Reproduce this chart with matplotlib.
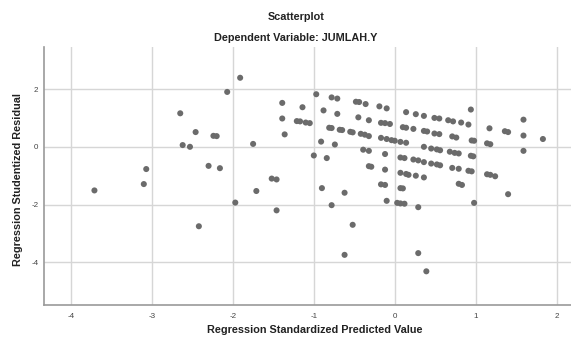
import matplotlib
matplotlib.use("Agg")
import matplotlib.pyplot as plt
import numpy as np

plt.rcParams["font.family"] = ["Liberation Sans", "DejaVu Sans"]

title = "Scatterplot"
subtitle = "Dependent Variable: JUMLAH.Y"
x_label = "Regression Standardized Predicted Value"
y_label = "Regression Studentized Residual"

x_ticks = [-4, -3, -2, -1, 0, 1, 2]
y_ticks = [-4, -2, 0, 2]

# standardized predicted values
pred = [
    -3.71, -3.10, -3.07, -2.65, -2.62, -2.53, -2.46, -2.42, -2.30, -2.24,
    -2.20, -2.16, -2.07, -1.97, -1.91, -1.75, -1.71, -1.52, -1.46, -1.46,
    -1.39, -1.39, -1.36,
    -0.97, -0.78, -0.71, -0.48, -0.44, -0.36, -0.19, -0.10, -1.14, -0.88,
    -0.71, -0.45, -0.32, 0.14, 0.26, 0.36, 0.49, 0.55, 0.66, 0.72,
    0.82, 0.91, 0.94, -1.21, -1.17, -1.10, -1.05, -0.17, -0.12, -0.06,
    -0.81, -0.78, -0.68, -0.65, -0.55, -0.52, -0.42, -0.37, -0.32, -0.17,
    -0.10, -0.04, 0.00, 0.07, 0.14, 0.10, 0.14, 0.23, 0.36, 0.40,
    0.49, 0.55, 0.71, 0.76, 0.95, 0.98, 1.17, 1.36, 1.40, 1.59,
    1.59, 1.83, 1.14, 1.18, 1.59, -0.91, -0.74, -1.00, -0.84, -0.39,
    -0.32, -0.12, 0.36, 0.45, 0.52, 0.56, 0.68, 0.74, 0.79, 0.94,
    0.97, 0.07, 0.12, 0.23, 0.29, 0.36, 0.45, 0.52, 0.56, 0.71,
    0.79, 0.91, 0.95, -0.32, -0.29, -0.12, 0.07, 0.14, 0.17, 0.26,
    0.36, 1.14, 1.18, 1.24, -0.90, -0.62, -0.17, -0.12, 0.07, 0.10,
    0.79, 0.83, 1.40, -0.78, -0.10, 0.03, 0.07, 0.12, 0.29, 0.98,
    -0.52, -0.62, 0.29, 0.39,
]

# studentized residuals
resid = [
    -1.51, -1.29, -0.77, 1.16, 0.06, 0.00, 0.51, -2.75, -0.66, 0.38,
    0.37, -0.74, 1.90, -1.93, 2.39, 0.10, -1.53, -1.10, -1.13, -2.20,
    1.52, 0.98, 0.43,
    1.82, 1.71, 1.67, 1.56, 1.55, 1.48, 1.40, 1.33, 1.37, 1.26,
    1.14, 1.02, 0.92, 1.20, 1.13, 1.07, 1.00, 0.98, 0.92, 0.88,
    0.84, 0.77, 1.29, 0.89, 0.88, 0.84, 0.82, 0.83, 0.82, 0.79,
    0.66, 0.65, 0.59, 0.58, 0.52, 0.50, 0.45, 0.42, 0.37, 0.31,
    0.27, 0.23, 0.21, 0.17, 0.14, 0.68, 0.66, 0.62, 0.55, 0.53,
    0.46, 0.44, 0.36, 0.32, 0.22, 0.21, 0.64, 0.54, 0.51, 0.94,
    0.39, 0.27, 0.12, 0.09, -0.14, 0.18, 0.08, -0.30, -0.39, -0.10,
    -0.14, -0.25, 0.00, -0.06, -0.09, -0.12, -0.17, -0.21, -0.23, -0.31,
    -0.33, -0.37, -0.39, -0.44, -0.47, -0.53, -0.58, -0.61, -0.64, -0.73,
    -0.76, -0.83, -0.85, -0.67, -0.69, -0.79, -0.90, -0.94, -0.97, -1.00,
    -1.06, -0.95, -0.97, -1.02, -1.43, -1.59, -1.30, -1.32, -1.43, -1.44,
    -1.28, -1.32, -1.64, -2.02, -1.87, -1.94, -1.96, -1.97, -2.09, -1.94,
    -2.70, -3.74, -3.68, -4.31,
]

fig = plt.figure(figsize=(5.71, 3.38), dpi=100)
ax = fig.add_axes([44 / 571, 1 - 305 / 338, 1 - 44 / 571, (305 - 47) / 338])

ax.scatter(pred, resid, s=19, color="#6b6b6b", edgecolors="none", zorder=3)

ax.set_xlim(-4.333, 2.177)
ax.set_ylim(-5.476, 3.455)
ax.set_xticks(x_ticks)
ax.set_yticks(y_ticks)
ax.set_xticklabels([str(t) for t in x_ticks])
ax.set_yticklabels([str(t) for t in y_ticks])
ax.tick_params(length=0, pad=6, labelsize=5.8, colors="#444444")
ax.tick_params(axis="y", pad=4)
ax.grid(True, color="#d6d6d6", linewidth=1.0, zorder=0)

for side in ["top", "right"]:
    ax.spines[side].set_visible(False)
for side in ["left", "bottom"]:
    ax.spines[side].set_color("#9a9a9a")
    ax.spines[side].set_linewidth(1.2)

fig.text(296 / 571, 1 - 17 / 338, title, ha="center", va="center",
         fontsize=7.8, fontweight="bold", color="#222222")
fig.text(296 / 571, 1 - 38 / 338, subtitle, ha="center", va="center",
         fontsize=7.8, fontweight="bold", color="#222222")
fig.text(315 / 571, 1 - 330 / 338, x_label, ha="center", va="center",
         fontsize=7.8, fontweight="bold", color="#222222")
fig.text(18 / 571, 1 - 180 / 338, y_label, ha="center", va="center",
         rotation=90, fontsize=7.8, fontweight="bold", color="#222222")

fig.savefig("out.png", dpi=100)
